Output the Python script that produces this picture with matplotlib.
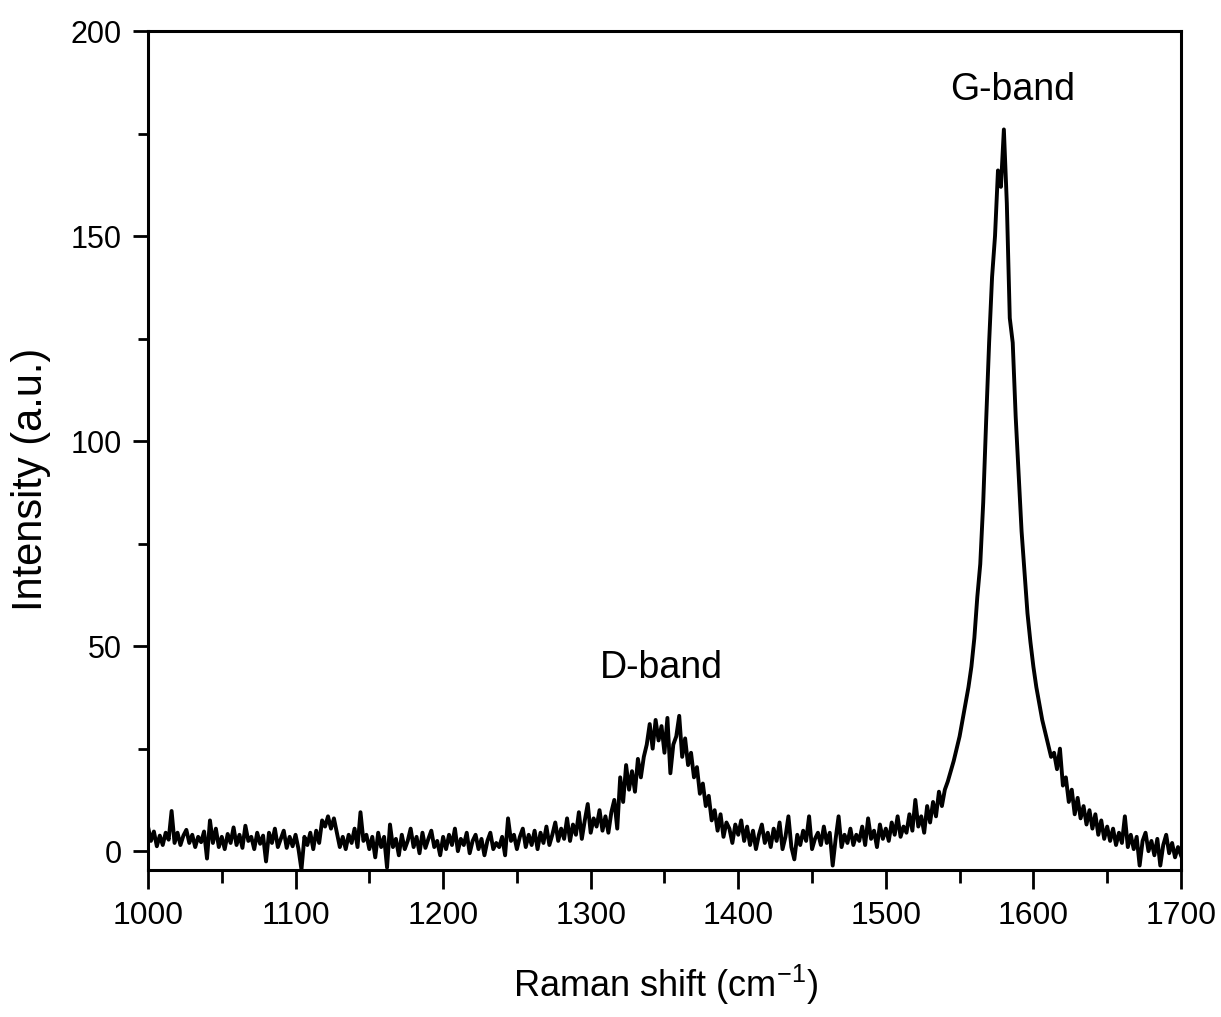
import numpy as np
import matplotlib
matplotlib.use("Agg")
import matplotlib.pyplot as plt

plt.rcParams['font.family'] = ['Liberation Sans', 'DejaVu Sans']
plt.rcParams['mathtext.fontset'] = 'custom'
plt.rcParams['mathtext.rm'] = 'Liberation Sans'
plt.rcParams['mathtext.default'] = 'regular'

# Raman shift grid (cm^-1), step 2
shift = np.arange(1000, 1701, 2)

# intensity, 10 values per 20 cm^-1
intensity = [
    6.0, 2.5, 4.8, 1.2, 3.8, 1.5, 4.5, 2.8, 9.8, 2.0,      # 1000
    4.5, 1.5, 3.8, 5.2, 2.0, 4.0, 1.0, 3.5, 2.2, 4.8,      # 1020
    -1.8, 7.5, 2.0, 5.5, 1.0, 3.5, 0.5, 4.2, 2.0, 5.8,     # 1040
    1.5, 4.0, 0.8, 6.2, 2.5, 3.5, 0.5, 4.5, 1.8, 3.8,      # 1060
    -2.5, 4.5, 2.0, 5.5, 1.0, 3.0, 5.0, 0.8, 3.5, 1.2,     # 1080
    4.0, 0.5, -4.5, 3.5, 1.5, 4.5, 0.5, 5.0, 2.0, 7.5,     # 1100
    6.0, 8.5, 5.5, 8.0, 4.5, 1.0, 3.5, 0.5, 4.0, 2.0,      # 1120
    5.5, 1.0, 9.5, 2.5, 4.0, 0.5, 3.5, -1.5, 4.5, 1.0,     # 1140
    3.5, -4.0, 6.5, 1.0, 3.0, -1.0, 4.0, 0.5, 2.5, 5.5,    # 1160
    1.0, 3.5, -0.5, 4.5, 0.8, 3.0, 5.0, 1.0, 2.5, -1.0,    # 1180
    3.5, 0.5, 4.0, 1.5, 5.5, 0.0, 3.0, 1.5, 4.5, -0.5,     # 1200
    2.5, 4.0, 0.5, 3.0, -1.0, 2.5, 4.5, 0.5, 2.0, 1.0,     # 1220
    3.5, -1.0, 8.0, 2.5, 4.0, 0.5, 3.5, 5.5, 1.0, 4.0,     # 1240
    1.5, 5.0, 0.5, 4.5, 2.0, 6.0, 1.5, 4.0, 7.0, 2.5,      # 1260
    5.5, 3.0, 8.0, 2.5, 6.5, 4.0, 9.5, 3.0, 7.5, 11.5,     # 1280
    4.5, 8.0, 6.0, 10.0, 5.0, 8.5, 4.5, 9.5, 12.5, 5.5,    # 1300
    18.0, 12.0, 21.0, 15.0, 19.5, 14.5, 22.5, 18.0, 23.0, 26.0,   # 1320
    31.0, 25.0, 32.0, 27.0, 30.5, 24.0, 32.5, 19.0, 26.0, 28.0,   # 1340
    33.0, 23.0, 27.5, 21.0, 24.0, 18.0, 20.5, 14.0, 16.5, 11.0,   # 1360
    13.5, 7.5, 10.0, 5.0, 9.0, 3.5, 7.0, 5.5, 2.0, 6.5,    # 1380
    4.0, 7.5, 2.5, 6.0, 1.5, 5.0, 0.5, 4.0, 6.5, 2.0,      # 1400
    4.5, 1.0, 5.5, 2.5, 7.0, 0.5, 3.5, 8.5, 1.0, -2.0,     # 1420
    4.0, 1.5, 5.0, 2.5, 8.5, 0.5, 3.0, 4.5, 1.5, 6.0,      # 1440
    2.0, 4.5, -3.5, 3.0, 8.5, 1.0, 4.0, 2.0, 5.5, 1.5,     # 1460
    4.0, 2.5, 6.0, 1.5, 8.0, 3.0, 5.0, 1.0, 6.5, 3.0,      # 1480
    5.5, 2.5, 7.0, 4.0, 8.5, 3.5, 6.0, 4.5, 9.0, 5.0,      # 1500
    12.5, 6.0, 8.5, 4.5, 11.0, 7.0, 12.0, 8.5, 14.5, 11.0,        # 1520
    15.0, 17.0, 19.5, 22.0, 25.0, 28.0, 32.0, 36.0, 40.0, 45.0,   # 1540
    52.0, 62.0, 70.0, 85.0, 105.0, 124.0, 140.0, 150.0, 166.0, 162.0,  # 1560
    176.0, 158.0, 130.0, 124.0, 106.0, 92.0, 78.0, 68.0, 58.0, 51.0,   # 1580
    45.0, 40.0, 36.0, 32.0, 29.0, 26.0, 23.0, 24.0, 20.0, 25.0,   # 1600
    16.0, 18.0, 12.0, 15.0, 9.0, 13.0, 8.0, 11.0, 6.5, 10.0,      # 1620
    5.5, 9.0, 4.0, 7.5, 3.0, 6.0, 2.5, 5.5, 1.5, 4.5,      # 1640
    2.0, 8.5, 1.0, 4.0, 0.5, 3.5, -3.5, 2.5, 4.5, 0.0,     # 1660
    2.5, -1.0, 3.0, -3.5, 1.5, 4.0, -0.5, 2.0, -1.5, 1.0,  # 1680
    -1.0,                                                  # 1700
]

band_names = ['D-band', 'G-band']
band_pos = [(1348, 44.6), (1586, 185.6)]

fig = plt.figure(figsize=(12.21, 10.17), dpi=100)
ax = fig.add_axes([0.1212, 0.1445, 0.846, 0.825])

ax.plot(shift, intensity, color='black', lw=2.8)

for name, (bx, by) in zip(band_names, band_pos):
    ax.text(bx, by, name, fontsize=27, ha='center', va='center')

ax.set_xlim(1000, 1700)
ax.set_ylim(-4.6, 200)
ax.set_xticks(np.arange(1000, 1701, 100))
ax.set_xticks(np.arange(1050, 1700, 100), minor=True)
ax.set_yticks(np.arange(0, 201, 50))
ax.set_yticks(np.arange(25, 200, 50), minor=True)

ax.tick_params(axis='x', which='major', direction='out', length=14, width=2.0,
               labelsize=23, pad=8)
ax.tick_params(axis='x', which='minor', direction='out', length=9, width=2.0)
ax.tick_params(axis='y', which='major', direction='out', length=11, width=2.0,
               labelsize=22, pad=8)
ax.tick_params(axis='y', which='minor', direction='out', length=7, width=2.0)

for sp in ax.spines.values():
    sp.set_linewidth(2.2)

ax.set_xlabel('Raman shift (cm$^{-1}$)', fontsize=26)
ax.set_ylabel('Intensity (a.u.)', fontsize=30)
ax.xaxis.set_label_coords(0.501, -0.111)
ax.yaxis.set_label_coords(-0.094, 0.466)

fig.savefig('out.png', dpi=100)
